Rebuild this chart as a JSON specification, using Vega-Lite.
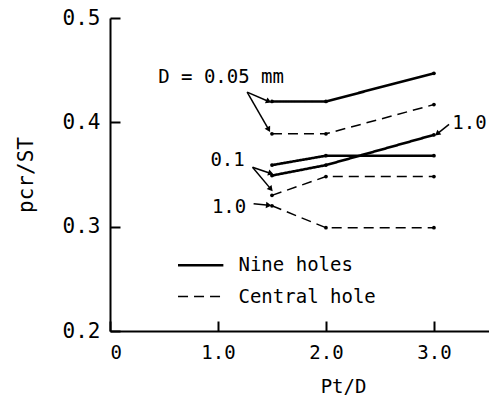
{
  "$schema": "https://vega.github.io/schema/vega-lite/v6.json",
  "width": 379,
  "height": 313,
  "autosize": {"type": "none"},
  "padding": {"left": 110, "top": 18, "right": 0, "bottom": 70},
  "background": "white",
  "config": {
    "view": {"stroke": null},
    "font": "DejaVu Sans Mono",
    "axis": {
      "grid": false,
      "domainColor": "black",
      "domainWidth": 2,
      "tickColor": "black",
      "tickWidth": 2,
      "labelColor": "black",
      "titleColor": "black",
      "labelFont": "DejaVu Sans Mono",
      "titleFont": "DejaVu Sans Mono",
      "titleFontWeight": "normal",
      "labelFontSize": 19,
      "titleFontSize": 19
    }
  },
  "datasets": {
    "series": [
      {"x": 1.5, "y": 0.42, "type": "Nine holes", "D": "0.05"},
      {"x": 2.0, "y": 0.42, "type": "Nine holes", "D": "0.05"},
      {"x": 3.0, "y": 0.447, "type": "Nine holes", "D": "0.05"},
      {"x": 1.5, "y": 0.389, "type": "Central hole", "D": "0.05"},
      {"x": 2.0, "y": 0.389, "type": "Central hole", "D": "0.05"},
      {"x": 3.0, "y": 0.417, "type": "Central hole", "D": "0.05"},
      {"x": 1.5, "y": 0.359, "type": "Nine holes", "D": "0.1"},
      {"x": 2.0, "y": 0.368, "type": "Nine holes", "D": "0.1"},
      {"x": 3.0, "y": 0.368, "type": "Nine holes", "D": "0.1"},
      {"x": 1.5, "y": 0.349, "type": "Nine holes", "D": "1.0"},
      {"x": 2.0, "y": 0.359, "type": "Nine holes", "D": "1.0"},
      {"x": 3.0, "y": 0.388, "type": "Nine holes", "D": "1.0"},
      {"x": 1.5, "y": 0.33, "type": "Central hole", "D": "0.1"},
      {"x": 2.0, "y": 0.348, "type": "Central hole", "D": "0.1"},
      {"x": 3.0, "y": 0.348, "type": "Central hole", "D": "0.1"},
      {"x": 1.5, "y": 0.32, "type": "Central hole", "D": "1.0"},
      {"x": 2.0, "y": 0.299, "type": "Central hole", "D": "1.0"},
      {"x": 3.0, "y": 0.299, "type": "Central hole", "D": "1.0"}
    ],
    "arrows": [
      {"x": 1.27, "y": 0.429, "x2": 1.47, "y2": 0.42},
      {"x": 1.27, "y": 0.429, "x2": 1.47, "y2": 0.393},
      {"x": 1.32, "y": 0.357, "x2": 1.49, "y2": 0.351},
      {"x": 1.32, "y": 0.357, "x2": 1.49, "y2": 0.336},
      {"x": 1.33, "y": 0.322, "x2": 1.47, "y2": 0.3205},
      {"x": 3.14, "y": 0.398, "x2": 3.03, "y2": 0.389}
    ],
    "labels": [
      {"x": 0.446, "y": 0.443, "label": "D = 0.05 mm"},
      {"x": 0.93, "y": 0.364, "label": "0.1"},
      {"x": 0.944, "y": 0.319, "label": "1.0"},
      {"x": 3.17, "y": 0.399, "label": "1.0"},
      {"x": 1.19, "y": 0.263, "label": "Nine holes"},
      {"x": 1.19, "y": 0.233, "label": "Central hole"}
    ],
    "legend": [
      {"x": 0.63, "x2": 1.05, "y": 0.263, "type": "Nine holes"},
      {"x": 0.63, "x2": 1.05, "y": 0.233, "type": "Central hole"}
    ]
  },
  "layer": [
    {
      "data": {"name": "series"},
      "mark": {"type": "line", "color": "black"},
      "encoding": {
        "x": {
          "field": "x", "type": "quantitative",
          "scale": {"domain": [0, 3.51], "nice": false},
          "axis": {
            "values": [0, 1, 2, 3],
            "labelExpr": "datum.value == 0 ? '0' : format(datum.value, '.1f')",
            "tickSize": -10,
            "labelPadding": 22,
            "title": "Pt/D",
            "titleX": 233,
            "titleY": 55,
            "titleBaseline": "middle",
            "titleAnchor": "middle"
          }
        },
        "y": {
          "field": "y", "type": "quantitative",
          "scale": {"domain": [0.2, 0.5], "nice": false, "zero": false},
          "axis": {
            "values": [0.2, 0.3, 0.4, 0.5],
            "format": ".1f",
            "tickSize": -10,
            "labelPadding": 20,
            "labelFontSize": 21,
            "title": "pcr/ST",
            "titleFontSize": 21,
            "titlePadding": 26
          }
        },
        "detail": {"field": "D"},
        "strokeDash": {
          "field": "type", "type": "nominal",
          "scale": {"domain": ["Nine holes", "Central hole"], "range": [[1, 0], [10, 6]]},
          "legend": null
        },
        "strokeWidth": {
          "field": "type", "type": "nominal",
          "scale": {"domain": ["Nine holes", "Central hole"], "range": [2.6, 1.5]},
          "legend": null
        }
      }
    },
    {
      "data": {"name": "series"},
      "mark": {"type": "point", "filled": true, "color": "black", "size": 14, "opacity": 1},
      "encoding": {
        "x": {"field": "x", "type": "quantitative"},
        "y": {"field": "y", "type": "quantitative"}
      }
    },
    {
      "data": {"name": "arrows"},
      "mark": {"type": "rule", "color": "black", "strokeWidth": 1.5},
      "encoding": {
        "x": {"field": "x", "type": "quantitative"},
        "y": {"field": "y", "type": "quantitative"},
        "x2": {"field": "x2"},
        "y2": {"field": "y2"}
      }
    },
    {
      "data": {"name": "arrows"},
      "transform": [
        {"calculate": "atan2(-(datum.y2 - datum.y) * 1043, (datum.x2 - datum.x) * 108) * 180 / PI", "as": "ang"}
      ],
      "mark": {"type": "point", "shape": "triangle-right", "filled": true, "color": "black", "size": 40, "opacity": 1},
      "encoding": {
        "x": {"field": "x2", "type": "quantitative"},
        "y": {"field": "y2", "type": "quantitative"},
        "angle": {"field": "ang", "type": "quantitative", "scale": null}
      }
    },
    {
      "data": {"name": "labels"},
      "mark": {"type": "text", "align": "left", "baseline": "middle", "font": "DejaVu Sans Mono", "fontSize": 19, "color": "black"},
      "encoding": {
        "x": {"field": "x", "type": "quantitative"},
        "y": {"field": "y", "type": "quantitative"},
        "text": {"field": "label"}
      }
    },
    {
      "data": {"name": "legend"},
      "mark": {"type": "rule", "color": "black"},
      "encoding": {
        "x": {"field": "x", "type": "quantitative"},
        "x2": {"field": "x2"},
        "y": {"field": "y", "type": "quantitative"},
        "strokeDash": {"field": "type", "type": "nominal", "legend": null},
        "strokeWidth": {"field": "type", "type": "nominal", "legend": null}
      }
    }
  ]
}
